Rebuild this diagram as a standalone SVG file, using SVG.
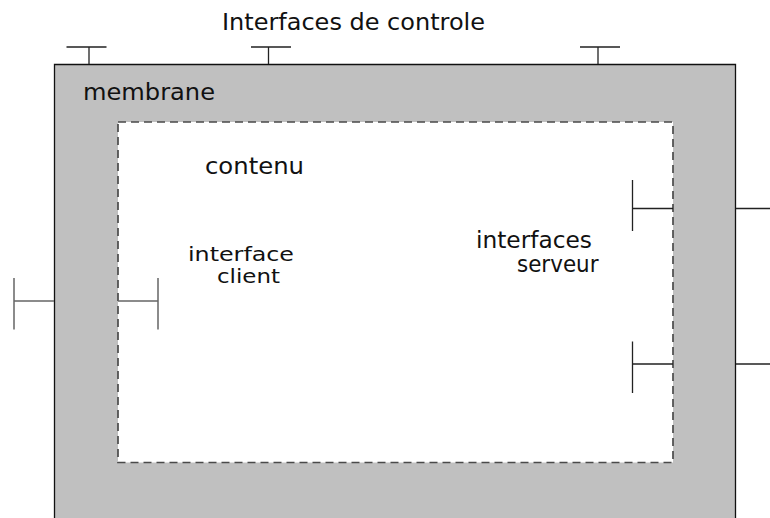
<svg xmlns="http://www.w3.org/2000/svg" width="770" height="518" viewBox="0 0 770 518">
<style>
  text { font-family: "DejaVu Sans", "Liberation Sans", sans-serif; font-size: 23px; fill: #111; }
  .tight { font-size: 20px; }
  .stub { stroke: #222; stroke-width: 1.3; fill: none; }
  .stubg { stroke: #666; stroke-width: 1.5; fill: none; }
</style>
<rect width="770" height="518" fill="#ffffff"/>
<g id="membrane">
  <rect x="54" y="64" width="682" height="460" fill="#c0c0c0"/>
  <path d="M54.5,518 V64.5 H735.5 V518" fill="none" stroke="#111" stroke-width="1.3"/>
  <text x="83" y="99.5" textLength="132" lengthAdjust="spacingAndGlyphs">membrane</text>
</g>
<g id="contenu">
  <rect x="118" y="122" width="555" height="340.5" fill="#ffffff" stroke="#4a4a4a" stroke-width="1.7" stroke-dasharray="8,5"/>
  <text x="205" y="174" textLength="99" lengthAdjust="spacingAndGlyphs">contenu</text>
</g>
<g id="title">
  <text x="222" y="29.5" textLength="263" lengthAdjust="spacingAndGlyphs">Interfaces de controle</text>
</g>
<g id="connectors">
  <path class="stub" d="M66.5,47 H106.5 M89,47 V64"/>
  <path class="stub" d="M251,47 H291 M268.5,47 V64"/>
  <path class="stub" d="M580,47 H620 M598,47 V64"/>
  <path class="stubg" d="M14,278 V329.5 M14,301 H54"/>
  <path class="stubg" d="M118,301 H158 M158,278 V329.5"/>
  <path class="stub" d="M632.5,180 V231 M632.5,208.5 H673"/>
  <path class="stub" d="M736,208.5 H770"/>
  <path class="stub" d="M632.5,341.5 V393 M632.5,364 H673"/>
  <path class="stub" d="M736,364 H770"/>
</g>
<g id="interface-client">
  <text class="tight" x="188" y="261" textLength="106" lengthAdjust="spacingAndGlyphs">interface</text>
  <text class="tight" x="217" y="283" textLength="63" lengthAdjust="spacingAndGlyphs">client</text>
</g>
<g id="interfaces-serveur">
  <text x="476" y="248" textLength="116" lengthAdjust="spacingAndGlyphs">interfaces</text>
  <text x="517" y="272" textLength="81.5" lengthAdjust="spacingAndGlyphs">serveur</text>
</g>
</svg>
